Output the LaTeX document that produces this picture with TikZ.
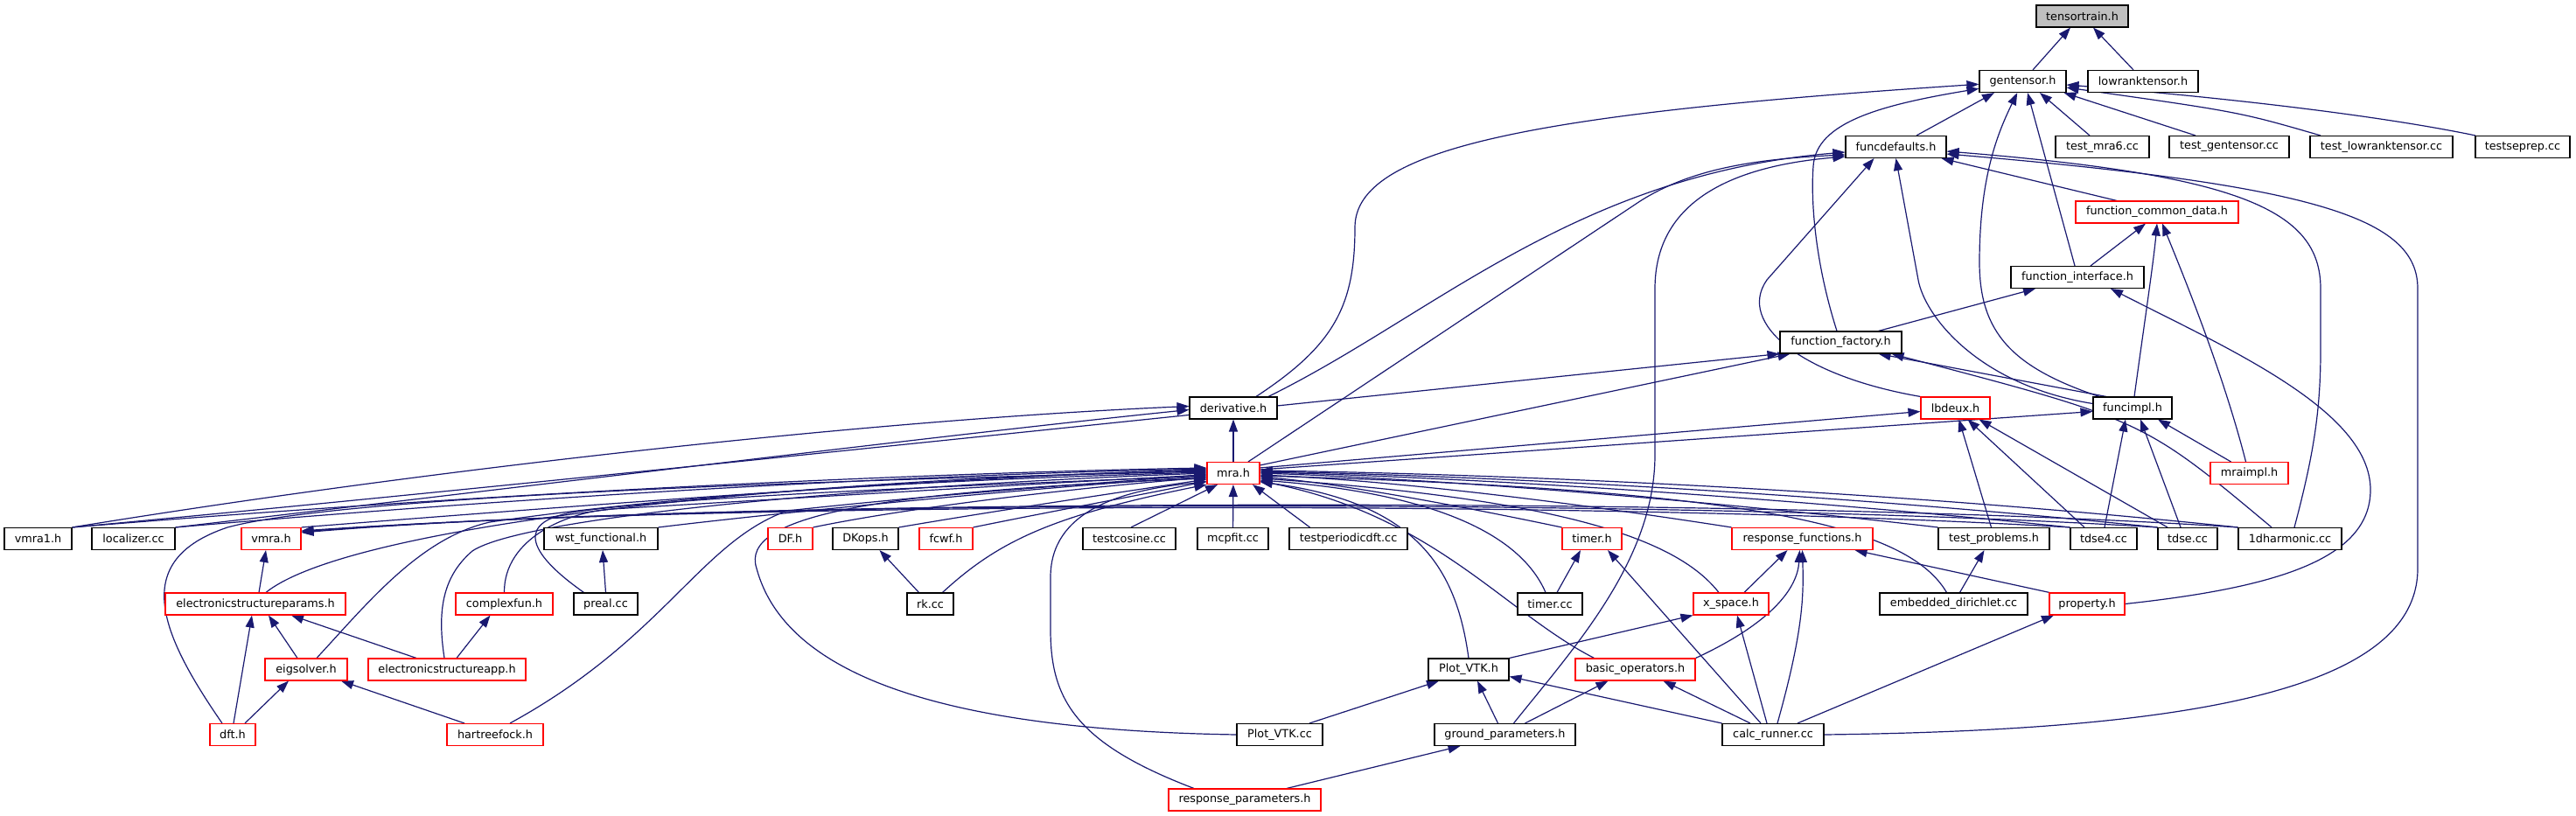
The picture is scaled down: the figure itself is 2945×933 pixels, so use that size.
\documentclass[tikz,border=0pt]{standalone}
\usepackage{fontspec}
\setmainfont{DejaVu Sans}
\usetikzlibrary{arrows.meta}
\definecolor{edgec}{HTML}{191970}
\definecolor{ttfill}{HTML}{BFBFBF}
\pgfdeclarelayer{background}
\pgfsetlayers{background,main}
\begin{document}
\begin{tikzpicture}[x=1pt,y=-1pt,
  nd/.style={draw=black,line width=1.1pt,fill=white,minimum height=25pt,inner sep=0pt,font=\fontsize{12.8}{15}\selectfont},
  rd/.style={nd,draw=red},
  gnd/.style={nd,fill=ttfill},
  e/.style={draw=edgec,line width=1.2pt,-{Triangle[length=14pt,width=10pt]}}]
\useasboundingbox (0,0) rectangle (2945,933);
% row 0-7
\node[gnd,minimum width=105pt] (tt) at (2380.5,18.5) {tensortrain.h};
\node[nd,minimum width=99pt] (gt) at (2312.5,93) {gentensor.h};
\node[nd,minimum width=126pt] (lr) at (2450,93) {lowranktensor.h};
\node[nd,minimum width=115pt] (fd) at (2167.5,168) {funcdefaults.h};
\node[nd,minimum width=107pt] (tm6) at (2403.5,168) {test\_mra6.cc};
\node[nd,minimum width=137pt] (tg) at (2548.5,168) {test\_gentensor.cc};
\node[nd,minimum width=163pt] (tlr) at (2722.5,168) {test\_lowranktensor.cc};
\node[nd,minimum width=108pt] (tsp) at (2884,168) {testseprep.cc};
\node[rd,minimum width=186pt] (fcd) at (2466,242.5) {function\_common\_data.h};
\node[nd,minimum width=152pt] (fi) at (2375,317) {function\_interface.h};
\node[nd,minimum width=139pt] (ff) at (2104.5,391.5) {function\_factory.h};
\node[nd,minimum width=100pt] (der) at (1410,466.5) {derivative.h};
\node[rd,minimum width=79pt] (lbd) at (2235.5,466.5) {lbdeux.h};
\node[nd,minimum width=90pt] (fim) at (2438,466.5) {funcimpl.h};
\node[rd,minimum width=60pt] (mra) at (1410,541) {mra.h};
\node[rd,minimum width=89pt] (mim) at (2571.5,541) {mraimpl.h};
% row 8
\node[nd,minimum width=77pt] (vmra1) at (43.5,616) {vmra1.h};
\node[nd,minimum width=95pt] (loc) at (152.5,616) {localizer.cc};
\node[rd,minimum width=68pt] (vmra) at (310,616) {vmra.h};
\node[nd,minimum width=130pt] (wst) at (687,616) {wst\_functional.h};
\node[rd,minimum width=51pt] (df) at (903.5,616) {DF.h};
\node[nd,minimum width=75pt] (dko) at (989.5,616) {DKops.h};
\node[rd,minimum width=61pt] (fcwf) at (1081.5,616) {fcwf.h};
\node[nd,minimum width=106pt] (tcos) at (1291,616) {testcosine.cc};
\node[nd,minimum width=81pt] (mcp) at (1409.5,616) {mcpfit.cc};
\node[nd,minimum width=135pt] (tper) at (1541.5,616) {testperiodicdft.cc};
\node[rd,minimum width=68pt] (timh) at (1820,616) {timer.h};
\node[rd,minimum width=161pt] (rf) at (2060.5,616) {response\_functions.h};
\node[nd,minimum width=127pt] (tp) at (2279.5,616) {test\_problems.h};
\node[nd,minimum width=76pt] (td4) at (2405,616) {tdse4.cc};
\node[nd,minimum width=68pt] (tds) at (2501,616) {tdse.cc};
\node[nd,minimum width=118pt] (dh1) at (2618,616) {1dharmonic.cc};
% row 9
\node[rd,minimum width=206pt] (esp) at (292,690.5) {electronicstructureparams.h};
\node[rd,minimum width=111pt] (cfun) at (576.5,690.5) {complexfun.h};
\node[nd,minimum width=73pt] (preal) at (692.5,690.5) {preal.cc};
\node[nd,minimum width=53pt] (rk) at (1063.5,690.5) {rk.cc};
\node[nd,minimum width=74pt] (timcc) at (1772,690.5) {timer.cc};
\node[rd,minimum width=86pt] (xsp) at (1979,690.5) {x\_space.h};
\node[nd,minimum width=169pt] (edir) at (2233.5,690.5) {embedded\_dirichlet.cc};
\node[rd,minimum width=86pt] (prop) at (2386,690.5) {property.h};
% row 10
\node[rd,minimum width=94pt] (eig) at (350,765.5) {eigsolver.h};
\node[rd,minimum width=180pt] (esa) at (511,765.5) {electronicstructureapp.h};
\node[nd,minimum width=92pt] (pvh) at (1679,765.5) {Plot\_VTK.h};
\node[rd,minimum width=137pt] (bop) at (1869.5,765.5) {basic\_operators.h};
% row 11
\node[rd,minimum width=52pt] (dft) at (266,840) {dft.h};
\node[rd,minimum width=110pt] (hf) at (566,840) {hartreefock.h};
\node[nd,minimum width=98pt] (pvc) at (1463,840) {Plot\_VTK.cc};
\node[nd,minimum width=161pt] (gp) at (1720.5,840) {ground\_parameters.h};
\node[nd,minimum width=116pt] (cr) at (2027,840) {calc\_runner.cc};
% row 12
\node[rd,minimum width=174pt] (rp) at (1423,914.5) {response\_parameters.h};

\begin{pgfonlayer}{background}
\fill[white] (0,0) rectangle (2945,933);
% tensortrain
\draw[e] ([xshift=11.5]gt.north) -- ([xshift=-13.5]tt.south);
\draw[e] ([xshift=-11]lr.north) -- ([xshift=12.5]tt.south);
% gentensor
\draw[e] ([xshift=23.5]fd.north) -- ([xshift=-32.5]gt.south);
\draw[e] ([xshift=-14.5]tm6.north) -- ([xshift=19.5]gt.south);
\draw[e] ([xshift=-38.5]tg.north) -- ([xshift=-3]gt.south east);
\draw[e] ([xshift=-69.5]tlr.north) .. controls (2560,128) .. (gt);
\draw[e] ([xshift=-54]tsp.north) .. controls (2700,128) and (2500,108) .. (gt);
\draw[e] ([xshift=26]der.north) .. controls (1525,395) and (1549,350) .. (1549,260) .. controls (1549,170) and (1750,130) .. (gt);
\draw[e] ([xshift=-4.5]ff.north) .. controls (2075,300) and (2070,230) .. (2073,190) .. controls (2076,140) and (2150,120) .. (gt);
\draw[e] ([xshift=-38]fim.north) .. controls (2300,420) and (2263,380) .. (2263,300) .. controls (2263,200) and (2285,150) .. (gt);
\draw[e] ([xshift=-3]fi.north) -- ([xshift=5.5]gt.south);
% funcdefaults
\draw[e] ([xshift=40]der.north) .. controls (1640,360) and (1800,200) .. ([yshift=-6]fd.west);
\draw[e] ([xshift=17]mra.north) -- (1875,230) .. controls (1930,195) and (2000,182) .. ([yshift=-9]fd.west);
\draw[e] ([xshift=10]gp.north) .. controls (1800,740) and (1892,640) .. (1892,520) -- (1892,330) .. controls (1892,230) and (1980,190) .. ([yshift=-11]fd.west);
\draw[e] (lbd.north west) .. controls (2060,430) and (1985,370) .. (2020,320) -- ([xshift=-25]fd.south);
\draw[e] ([yshift=5]fim.west) .. controls (2260,440) and (2200,360) .. (2193,320) -- (fd.south);
\draw[e] ([xshift=-46]fcd.north) -- ([xshift=52]fd.south);
\draw[e] ([xshift=5]dh1.north) .. controls (2645,520) and (2653,470) .. (2653,400) -- (2653,330) .. controls (2653,240) and (2560,200) .. ([yshift=-5]fd.east);
\draw[e] (cr.east) .. controls (2500,835) and (2764,790) .. (2764,650) -- (2764,330) .. controls (2764,250) and (2650,212) .. ([yshift=-8]fd.east);
% function_common_data
\draw[e] ([xshift=15]fi.north) -- ([xshift=-13]fcd.south);
\draw[e] ([xshift=2]fim.north) .. controls (2450,380) and (2462,300) .. (fcd.south);
\draw[e] ([xshift=-4]mim.north) .. controls (2540,420) and (2490,300) .. ([xshift=6]fcd.south);
% function_interface
\draw[e] ([xshift=43]ff.north) -- ([xshift=-48]fi.south);
\draw[e] (prop.east) .. controls (2600,672) and (2710,640) .. (2710,560) .. controls (2710,470) and (2550,400) .. ([xshift=38]fi.south);
% function_factory
\draw[e] ([yshift=-4]mra.north east) -- ([xshift=-58]ff.south);
\draw[e] (vmra1.north east) .. controls (600,555) and (1300,480) .. (ff.south west);
\draw[e] ([xshift=-30]fim.north) -- ([xshift=43]ff.south);
\draw[e] ([xshift=-21]dh1.north) .. controls (2450,480) .. ([xshift=58]ff.south);
% derivative
\draw[e] (mra) -- (der);
\draw[e] (vmra1.north east) .. controls (500,535) and (1000,480) .. ([yshift=2]der.west);
\draw[e] (loc.north east) .. controls (700,545) and (1100,495) .. ([yshift=-2]der.west);
% lbdeux, funcimpl
\draw[e] ([yshift=-7]mra.north east) -- ([yshift=-4]lbd.west);
\draw[e] ([yshift=-9]mra.north east) -- ([yshift=-4]fim.west);
\draw[e] ([xshift=-3]tp.north) -- ([xshift=4]lbd.south);
\draw[e] ([xshift=-22]td4.north) -- ([xshift=14]lbd.south);
\draw[e] ([xshift=-23]tds.north) -- ([xshift=27]lbd.south);
\draw[e] ([xshift=1]td4.north) -- ([xshift=-8]fim.south);
\draw[e] ([xshift=-8]tds.north) -- ([xshift=9]fim.south);
\draw[e] ([xshift=-21]mim.north) -- ([xshift=29]fim.south);
% mra.h from the left
\draw[e] (vmra1.north east) .. controls (600,560) and (1100,540) .. ([yshift=6]mra.west);
\draw[e] (loc.north east) .. controls (700,560) and (1100,542) .. ([yshift=5]mra.west);
\draw[e] (vmra.north east) .. controls (700,575) and (1100,545) .. ([yshift=4]mra.west);
\draw[e] ([xshift=12]esp.north) .. controls (400,600) and (900,548) .. ([yshift=3]mra.west);
\draw[e] ([xshift=-12]dft.north) .. controls (180,720) and (150,640) .. (260,603) .. controls (400,565) and (1000,548) .. ([yshift=2]mra.west);
\draw[e] ([xshift=12]eig.north) .. controls (420,690) and (480,615) .. (560,597) .. controls (800,562) and (1100,548) .. ([yshift=1]mra.west);
\draw[e] ([xshift=-3]esa.north) .. controls (500,700) and (505,660) .. (540,630) .. controls (600,590) and (1000,555) .. (mra.west);
\draw[e] ([xshift=17]hf.north) .. controls (760,730) and (800,620) .. (900,584) .. controls (1100,562) and (1300,550) .. ([yshift=-1]mra.west);
\draw[e] (cfun.north) .. controls (576,615) and (650,585) .. (700,582) .. controls (900,570) and (1200,552) .. ([yshift=-2]mra.west);
\draw[e] ([xshift=-25]preal.north) .. controls (600,630) and (590,595) .. (660,585) .. controls (800,565) and (1200,552) .. ([yshift=-3]mra.west);
\draw[e] (wst.north east) .. controls (900,585) and (1200,556) .. ([yshift=-4]mra.west);
\draw[e] (df.north east) .. controls (1050,578) and (1250,556) .. ([yshift=-5]mra.west);
\draw[e] (dko.north east) .. controls (1150,582) and (1300,560) .. ([yshift=-7]mra.west);
\draw[e] (fcwf.north east) .. controls (1200,585) and (1320,563) .. ([yshift=-9]mra.west);
\draw[e] (pvc.west) .. controls (1100,835) and (900,780) .. (865,650) .. controls (845,590) and (1000,562) .. ([yshift=-6]mra.west);
\draw[e] ([xshift=-58]rp.north) .. controls (1230,850) and (1201,800) .. (1201,720) -- (1201,660) .. controls (1201,585) and (1280,560) .. ([yshift=-10]mra.west);
\draw[e] ([xshift=14]rk.north) .. controls (1140,620) and (1200,590) .. (mra.south west);
\draw[e] ([xshift=2]tcos.north) -- ([xshift=-18]mra.south);
\draw[e] (mcp) -- (mra);
\draw[e] ([xshift=-44]tper.north) -- ([xshift=22]mra.south);
% mra.h from the right
\draw[e] (pvh.north) .. controls (1665,650) and (1620,575) .. ([yshift=-10]mra.east);
\draw[e] ([xshift=-5]timcc.north) .. controls (1740,615) and (1650,565) .. ([yshift=-8]mra.east);
\draw[e] (timh.north west) .. controls (1700,585) and (1550,555) .. ([yshift=-4]mra.east);
\draw[e] ([xshift=-14]xsp.north) .. controls (1920,620) and (1800,572) .. ([yshift=-6]mra.east);
\draw[e] ([xshift=-47]bop.north) .. controls (1720,700) and (1640,590) .. ([yshift=-9]mra.east);
\draw[e] (rf.north west) .. controls (1800,575) and (1600,550) .. ([yshift=-2]mra.east);
\draw[e] ([xshift=-8]edir.north) .. controls (2180,600) and (2000,560) .. ([yshift=-3]mra.east);
\draw[e] (tp.north west) .. controls (1950,572) and (1650,548) .. (mra.east);
\draw[e] (td4.north west) .. controls (2000,565) and (1650,545) .. ([yshift=1]mra.east);
\draw[e] (tds.north west) .. controls (2050,560) and (1650,543) .. ([yshift=2]mra.east);
\draw[e] (dh1.north west) .. controls (2100,555) and (1650,541) .. ([yshift=3]mra.east);
% vmra.h
\draw[e] (td4.north west) .. controls (1800,570) and (800,575) .. ([yshift=9]vmra.east);
\draw[e] (tds.north west) .. controls (1900,568) and (800,572) .. ([yshift=8]vmra.east);
\draw[e] (dh1.north west) .. controls (2000,566) and (800,570) .. ([yshift=7]vmra.east);
\draw[e] ([xshift=4]esp.north) -- ([xshift=-6]vmra.south);
% timer.h, x_space.h, response_functions.h
\draw[e] ([xshift=8]timcc.north) -- ([xshift=-13]timh.south);
\draw[e] ([xshift=-14]cr.north) -- ([xshift=18]timh.south);
\draw[e] (pvh.north east) -- (xsp.south west);
\draw[e] ([xshift=-7]cr.north) -- ([xshift=7]xsp.south);
\draw[e] ([xshift=15]xsp.north) -- ([xshift=-17]rf.south);
\draw[e] ([xshift=5]cr.north) .. controls (2062,720) and (2062,680) .. (rf.south);
\draw[e] (bop.north east) .. controls (2030,710) and (2055,670) .. ([xshift=-3]rf.south);
\draw[e] ([xshift=-43]prop.north) -- ([xshift=60]rf.south);
\draw[e] ([xshift=7]edir.north) -- ([xshift=-11]tp.south);
\draw[e] ([xshift=28]cr.north) -- ([xshift=-38]prop.south);
\draw[e] ([xshift=-26]cr.north) -- ([xshift=32]bop.south);
\draw[e] ([xshift=23]gp.north) -- ([xshift=-31]bop.south);
\draw[e] ([xshift=-8]gp.north) -- ([xshift=10]pvh.south);
\draw[e] ([xshift=34]pvc.north) -- ([xshift=-34]pvh.south);
\draw[e] (cr.north west) -- ([yshift=-8]pvh.east);
\draw[e] ([xshift=48]rp.north) -- ([xshift=-51]gp.south);
% left cluster
\draw[e] ([xshift=1]dft.north) -- ([xshift=-4]esp.south);
\draw[e] ([xshift=14]dft.north) -- ([xshift=-20]eig.south);
\draw[e] ([xshift=-10]eig.north) -- ([xshift=15]esp.south);
\draw[e] ([xshift=-35]esa.north) -- ([xshift=41]esp.south);
\draw[e] ([xshift=11]esa.north) -- ([xshift=-16]cfun.south);
\draw[e] ([xshift=-35]hf.north) -- ([xshift=40]eig.south);
\draw[e] (preal.north) -- ([xshift=2]wst.south);
\draw[e] ([xshift=-13]rk.north) -- ([xshift=16]dko.south);
\end{pgfonlayer}
\end{tikzpicture}
\end{document}
